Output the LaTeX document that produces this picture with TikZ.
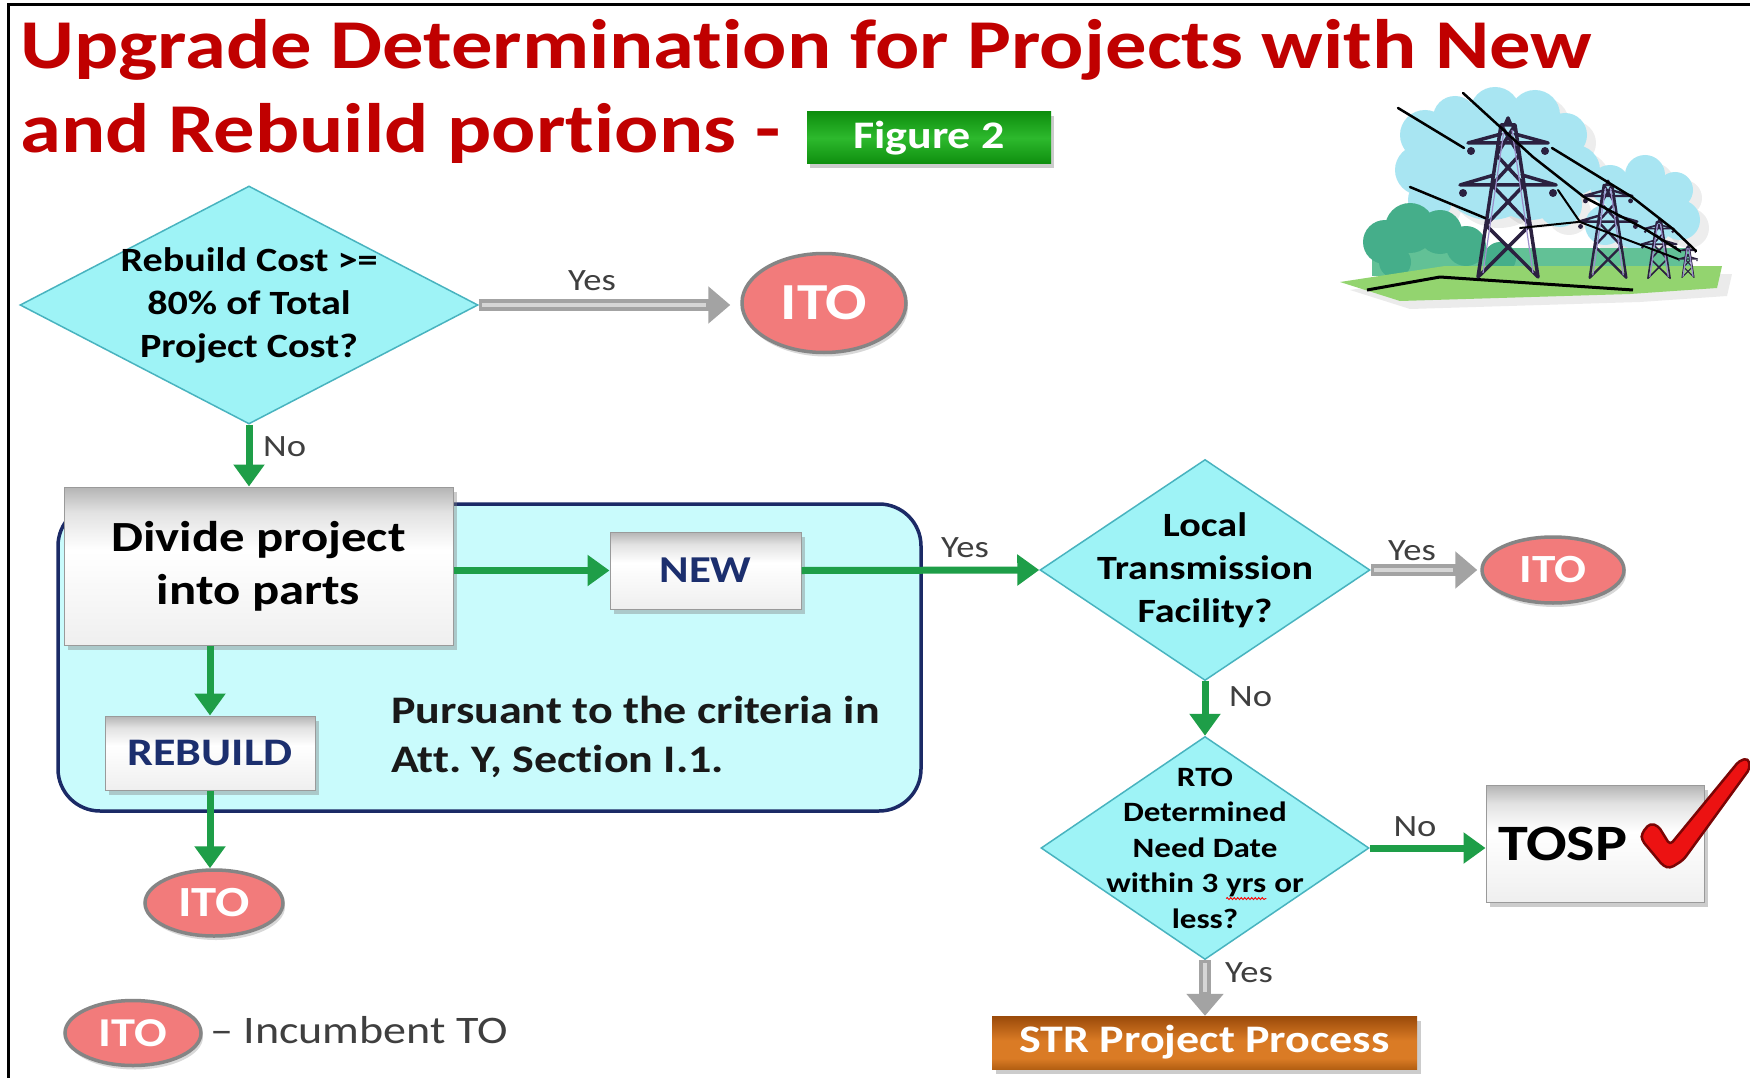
\documentclass[tikz,border=0pt]{standalone}
\usepackage{fontspec}
\setmainfont{Carlito}[FakeStretch=1.18, Ligatures=NoCommon]
\usetikzlibrary{shapes.geometric,arrows.meta,shadows,decorations.pathmorphing}

\definecolor{titlered}{HTML}{C00000}
\definecolor{qfill}{HTML}{9EF3F6}
\definecolor{qline}{HTML}{48B3BF}
\definecolor{groupfill}{HTML}{C9FBFC}
\definecolor{groupline}{HTML}{1B2A66}
\definecolor{flowgreen}{HTML}{1E9E48}
\definecolor{flowgray}{HTML}{A3A3A3}
\definecolor{flowgraylt}{HTML}{D6D6D6}
\definecolor{itofill}{HTML}{F27B7B}
\definecolor{itoline}{HTML}{858585}
\definecolor{navytext}{HTML}{1C2F6E}
\definecolor{labelgray}{HTML}{3F3F3F}
\definecolor{boxtop}{HTML}{B4B4B4}
\definecolor{boxmid}{HTML}{E2E2E2}
\definecolor{boxlow}{HTML}{EFEFEF}
\definecolor{boxline}{HTML}{9A9A9A}
\definecolor{strtop}{HTML}{9A4A0A}
\definecolor{strmid}{HTML}{DA7B25}
\definecolor{strlow}{HTML}{B35F12}
\definecolor{figdark}{HTML}{0E8E0E}
\definecolor{figmid}{HTML}{2DB92D}
\definecolor{sky}{HTML}{A8E5F2}
\definecolor{bush}{HTML}{45AE8A}
\definecolor{bushlt}{HTML}{62C196}
\definecolor{grass}{HTML}{93D46F}
\definecolor{steel}{HTML}{2B2140}
\definecolor{steellt}{HTML}{9C8FCB}
\definecolor{checkred}{HTML}{EC1212}
\definecolor{checkline}{HTML}{7A0505}

% vertical shadings (the middle 50bp band is mapped onto the shaded path)
\pgfdeclareverticalshading{boxshade}{100bp}{color(0bp)=(boxlow); color(25bp)=(boxlow); color(55bp)=(white); color(67bp)=(boxmid); color(75bp)=(boxtop); color(100bp)=(boxtop)}
\pgfdeclareverticalshading{strshade}{100bp}{color(0bp)=(strlow); color(25bp)=(strlow); color(35bp)=(strmid); color(52bp)=(strmid); color(75bp)=(strtop); color(100bp)=(strtop)}
\pgfdeclareverticalshading{figshade}{100bp}{color(0bp)=(figdark); color(25bp)=(figdark); color(50bp)=(figmid); color(75bp)=(figdark); color(100bp)=(figdark)}

% red spell-check wave under a word
\newcommand{\spellwave}[1]{\tikz[baseline=(sw.base)]{\node[inner sep=0pt,outer sep=0pt] (sw) {#1};\draw[red,line width=0.9pt,decorate,decoration={snake,amplitude=1pt,segment length=3.5pt}] ([yshift=-6pt]sw.base west) -- ([yshift=-6pt]sw.base east);}}

\tikzset{
  pylon/.pic={
    \draw[steel, line width=#1, line join=round, line cap=round]
      (-7,0) -- (-30,152) (7,0) -- (30,152) (-7,0) -- (7,0)
      (-40,18) -- (40,18) (-40,18) -- (-7,9) (40,18) -- (7,9)
      (-48,60) -- (48,60) (-48,60) -- (-14,50) (48,60) -- (14,50)
      (-7,0) -- (11.5,30) (7,0) -- (-11.5,30)
      (-11.5,30) -- (16.1,60) (11.5,30) -- (-16.1,60)
      (-16.1,60) -- (22.1,100) (16.1,60) -- (-22.1,100)
      (-22.1,100) -- (30,152) (22.1,100) -- (-30,152)
      (-3,0) -- (0,-7) -- (3,0);
    \draw[steellt, line width=1.2pt] (-4,5) -- (-25,148) (4,5) -- (25,148);
    \fill[steel] (-37,26) circle[radius=4pt] (37,26) circle[radius=4pt]
                 (-45,68) circle[radius=4pt] (45,68) circle[radius=4pt];
  }
}

\begin{document}
\begin{tikzpicture}[x=1pt,y=-1pt,
  decision/.style={diamond, draw=qline, line width=1.5pt, fill=qfill, inner sep=0pt},
  qtext/.style={align=center, text=black, inner sep=0pt},
  ito/.style={ellipse, fill=itofill, draw=itoline, line width=3.5pt, text=white, inner sep=0pt,
    drop shadow={opacity=0.3, shadow xshift=2pt, shadow yshift=-4pt}},
  panel/.style={rectangle, draw=boxline, line width=1pt, shading=boxshade, inner sep=0pt,
    drop shadow={opacity=0.4, shadow xshift=4pt, shadow yshift=-5pt}},
  groupbox/.style={rectangle, rounded corners=42pt, draw=groupline, line width=3.5pt, fill=groupfill},
  lbl/.style={text=labelgray, inner sep=0pt, font=\fontsize{31}{36}\selectfont},
  greenflow/.style={draw=flowgreen, line width=7pt, -{Triangle[width=30pt,length=22pt]}},
  grayflow/.style={draw=flowgray, line width=12pt, -{Triangle[width=36pt,length=22pt]}},
  grayshine/.style={draw=flowgraylt, line width=4.5pt},
]
\useasboundingbox (0,0) rectangle (1750,1078);
\fill[white] (0,0) rectangle (1750,1078);
\draw[line width=3pt] (8,1078) -- (8,5) -- (1750,5);

% ---------- title ----------
\node[anchor=base west, inner sep=0pt, text=titlered, font=\bfseries\fontsize{70}{84}\selectfont]
  (title1) at (20,69) {Upgrade Determination for Projects with New};
\node[anchor=base west, inner sep=0pt, text=titlered, font=\bfseries\fontsize{70}{84}\selectfont]
  (title2) at (20,153) {and Rebuild portions -};
\node[rectangle, shading=figshade, minimum width=244pt, minimum height=52pt, text=white,
  font=\bfseries\fontsize{39}{44}\selectfont,
  drop shadow={opacity=0.4, shadow xshift=3pt, shadow yshift=-4pt}] (fig) at (929,138) {Figure 2};

% ---------- power-line clip art ----------
\foreach \cx/\cy/\r in {1425/135/25,1455/118/22,1495/112/25,1535/115/25,1565/135/22,1575/170/25,
  1560/205/22,1420/170/25,1430/200/22,1490/165/55,1530/175/45,
  1610/185/20,1645/175/20,1675/190/18,1680/220/20,1640/215/35,1605/225/20}
  \fill[black, opacity=0.07] (\cx+9,\cy+8) circle[radius=\r pt];
\foreach \cx/\cy/\r in {1425/135/25,1455/118/22,1495/112/25,1535/115/25,1565/135/22,1575/170/25,
  1560/205/22,1420/170/25,1430/200/22,1490/165/55,1530/175/45,
  1610/185/20,1645/175/20,1675/190/18,1680/220/20,1640/215/35,1605/225/20}
  \fill[sky] (\cx,\cy) circle[radius=\r pt];
\fill[bushlt] (1372,248) rectangle (1690,276);
\foreach \cx/\cy/\r in {1385/242/22,1410/228/25,1440/232/22,1466/246/20,1395/262/16,1500/258/16}
  \fill[bush] (\cx,\cy) circle[radius=\r pt];
\fill[black, opacity=0.08] (1350,290) -- (1455,274) -- (1732,274) -- (1727,296) -- (1640,302) -- (1410,309) -- cycle;
\fill[grass] (1340,282) -- (1445,266) -- (1722,266) -- (1717,288) -- (1630,294) -- (1400,301) -- cycle;
\draw[black, line width=3pt, line join=round] (1367,290) -- (1440,277) -- (1633,290);
\pic at (1508,125) {pylon=3.5pt};
\pic[scale=0.61] at (1608,185) {pylon=2.4pt};
\pic[scale=0.37] at (1659,222) {pylon=1.6pt};
\pic[scale=0.2] at (1688,247) {pylon=1.1pt};
\draw[black, line width=2.5pt, line cap=round, line join=round]
  (1398,108) -- (1464,148)
  (1463,93) -- (1533,157) -- (1584,197) -- (1645,229) -- (1680,251)
  (1410,187) -- (1485,218)
  (1552,148) -- (1632,197) -- (1673,229) -- (1696,251);
\draw[black, line width=2pt, line cap=round, line join=round]
  (1558,190) -- (1580,222) -- (1641,245) -- (1678,259)
  (1520,228) -- (1578,222);

% ---------- flow chart ----------
\node[groupbox, minimum width=863pt, minimum height=307pt] (grp) at (489.5,657.5) {};

\node[decision, minimum width=458pt, minimum height=238pt] (d1) at (249,305) {};
\node[qtext, font=\bfseries\fontsize{34}{43}\selectfont] (d1text) at (d1) {Rebuild Cost >=\\80\% of Total\\Project Cost?};

\node[ito, minimum width=164pt, minimum height=99pt, font=\bfseries\fontsize{52}{58}\selectfont] (ito1) at (824,303) {ITO};

\node[panel, minimum width=389pt, minimum height=158pt, align=center,
  font=\bfseries\fontsize{43}{53}\selectfont] (divide) at (258.5,566) {Divide project\\into parts};
\node[panel, minimum width=191pt, minimum height=77pt, text=navytext,
  font=\bfseries\fontsize{38}{44}\selectfont] (new) at (705.5,570.5) {NEW};
\node[panel, minimum width=210pt, minimum height=74pt, text=navytext,
  font=\bfseries\fontsize{39}{44}\selectfont] (rebuild) at (210,753) {REBUILD};
\node[anchor=west, align=left, inner sep=0pt, text=black!90,
  font=\bfseries\fontsize{39}{49}\selectfont] (criteria) at (391,737) {Pursuant to the criteria in\\Att.\ Y, Section I.1.};
\node[ito, minimum width=138pt, minimum height=66pt, font=\bfseries\fontsize{43}{48}\selectfont] (ito2) at (214,903) {ITO};

\node[decision, minimum width=330pt, minimum height=221pt] (d2) at (1205,570) {};
\node[qtext, font=\bfseries\fontsize{34}{43}\selectfont] (d2text) at (d2) {Local\\Transmission\\Facility?};
\node[ito, minimum width=142pt, minimum height=66pt, font=\bfseries\fontsize{40}{46}\selectfont] (ito3) at (1553,570) {ITO};

\node[decision, minimum width=328pt, minimum height=223pt] (d3) at (1205,848) {};
\node[qtext, font=\bfseries\fontsize{28}{35.5}\selectfont] (d3text) at (d3) {RTO\\Determined\\Need Date\\within 3 \spellwave{yrs} or\\less?};

\node[panel, minimum width=218pt, minimum height=117pt, text width=194pt, inner xsep=12pt, align=left,
  font=\bfseries\fontsize{51}{58}\selectfont] (tosp) at (1595,843.5) {TOSP};
\node[rectangle, shading=strshade, minimum width=425pt, minimum height=53pt, text=white,
  font=\bfseries\fontsize{39}{44}\selectfont,
  drop shadow={opacity=0.4, shadow xshift=4pt, shadow yshift=-5pt}] (str) at (1204.5,1042.5) {STR Project Process};

% check mark on the TOSP box
\draw[checkline, line width=2.5pt, fill=checkred, rounded corners=4pt, line join=round]
  (1641.7,833.3) -- (1650,823.3) -- (1658.3,826) -- (1670,845) -- (1739.3,760.7) -- (1748.3,758.3)
  -- (1750,768.3) -- (1683.3,860) -- (1670,868.3) -- (1663.3,866) -- (1641.7,840) -- cycle;

% ---------- connectors ----------
\draw[grayflow, shorten >=10pt] (d1.east) -- (d1.east -| ito1.west);
\draw[grayshine, shorten <=3pt, shorten >=34pt] (d1.east) -- (d1.east -| ito1.west);
\draw[greenflow] (d1.south) -- (d1.south |- divide.north);
\draw[greenflow] (divide.east |- new.west) -- (new.west);
\draw[greenflow] (new.east) -- (d2.west);
\draw[greenflow] (rebuild.north |- divide.south) -- (rebuild.north);
\draw[greenflow] (rebuild.south) -- (rebuild.south |- ito2.north);
\draw[grayflow, shorten >=3pt] (d2.east) -- (ito3.west);
\draw[grayshine, shorten <=3pt, shorten >=27pt] (d2.east) -- (ito3.west);
\draw[greenflow] (d2.south) -- (d3.north);
\draw[greenflow] (d3.east) -- (d3.east -| tosp.west);
\draw[grayflow] (d3.south) -- (d3.south |- str.north);
\draw[grayshine, shorten <=3pt, shorten >=24pt] (d3.south) -- (d3.south |- str.north);

% ---------- branch labels ----------
\node[lbl] (yes1) at (592,281) {Yes};
\node[lbl, anchor=west] (no1) at (263,447) {No};
\node[lbl] (yes2) at (965,548) {Yes};
\node[lbl] (yes3) at (1412,551) {Yes};
\node[lbl, anchor=west] (no2) at (1229,697) {No};
\node[lbl] (no3) at (1415,827) {No};
\node[lbl, anchor=west] (yes4) at (1225,973) {Yes};

% ---------- legend ----------
\node[ito, minimum width=136pt, minimum height=65pt, font=\bfseries\fontsize{41}{46}\selectfont] (legendito) at (133,1033) {ITO};
\node[anchor=west, inner sep=0pt, text=labelgray, font=\fontsize{39}{46}\selectfont] (legendtext) at (210,1030) {– Incumbent TO};
\end{tikzpicture}
\end{document}
